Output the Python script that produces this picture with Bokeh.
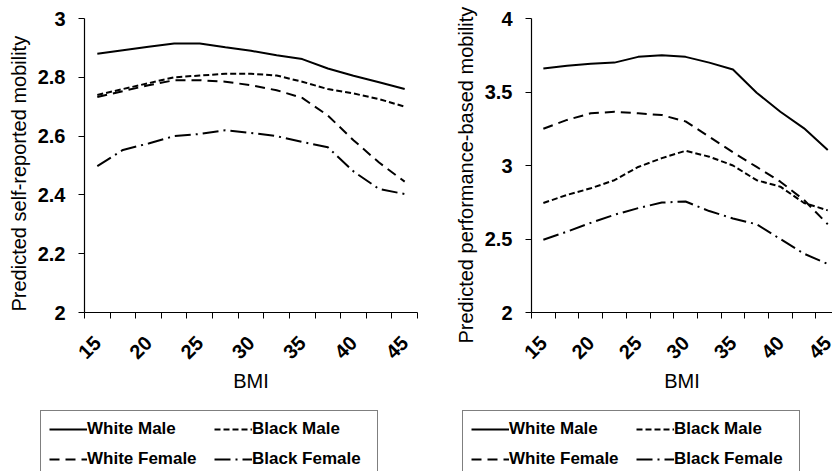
from bokeh.plotting import figure
from bokeh.layouts import row, column
from bokeh.models import FixedTicker, PrintfTickFormatter, Legend, LegendItem, Range1d, Title
from bokeh.embed import file_html
from bokeh.resources import INLINE

# ---- data ----
bmi = [15, 17.5, 20, 22.5, 25, 27.5, 30, 32.5, 35, 37.5, 40, 42.5, 45]
x_label_ticks = [15, 20, 25, 30, 35, 40, 45]
x_mark_ticks = [13.75, 16.25, 18.75, 21.25, 23.75, 26.25, 28.75, 31.25,
                33.75, 36.25, 38.75, 41.25, 43.75, 46.25]

series_names = ["White Male", "Black Male", "White Female", "Black Female"]

self_white_male = [2.88, 2.892, 2.904, 2.915, 2.915, 2.902, 2.89, 2.875, 2.862, 2.83, 2.805, 2.783, 2.76]
self_black_male = [2.74, 2.76, 2.78, 2.80, 2.806, 2.812, 2.812, 2.806, 2.785, 2.76, 2.745, 2.726, 2.70]
self_white_female = [2.733, 2.753, 2.773, 2.79, 2.79, 2.785, 2.773, 2.756, 2.73, 2.67, 2.586, 2.51, 2.445]
self_black_female = [2.498, 2.553, 2.575, 2.60, 2.607, 2.62, 2.611, 2.60, 2.58, 2.562, 2.48, 2.42, 2.403]

perf_white_male = [3.66, 3.678, 3.692, 3.70, 3.739, 3.75, 3.739, 3.70, 3.653, 3.495, 3.366, 3.253, 3.105]
perf_black_male = [2.745, 2.80, 2.845, 2.90, 2.99, 3.05, 3.10, 3.06, 3.0, 2.90, 2.856, 2.745, 2.695]
perf_white_female = [3.25, 3.31, 3.355, 3.365, 3.355, 3.343, 3.30, 3.195, 3.09, 2.99, 2.89, 2.765, 2.60]
perf_black_female = [2.495, 2.55, 2.61, 2.665, 2.71, 2.748, 2.755, 2.69, 2.64, 2.60, 2.50, 2.40, 2.33]

self_y_ticks = [2, 2.2, 2.4, 2.6, 2.8, 3]
perf_y_ticks = [2, 2.5, 3, 3.5, 4]

dashes = ["solid", "6 3", "10 6", "16 5 2 5"]
FONT = "Liberation Sans"


def make_fig(width, border_left, border_right, x_end, y_start, y_end, y_ticks,
             ylabel, label_offset, series):
    p = figure(width=width, height=405, output_backend="svg", toolbar_location=None,
               x_range=Range1d(13.75, x_end), y_range=Range1d(y_start, y_end),
               min_border_left=border_left, min_border_right=border_right,
               min_border_top=18, min_border_bottom=93)
    p.outline_line_color = None
    p.xgrid.visible = False
    p.ygrid.visible = False
    p.background_fill_color = "white"
    p.border_fill_color = "white"

    for ys, dash in zip(series, dashes):
        p.line(bmi, ys, line_color="black", line_width=2, line_dash=dash)

    xa = p.xaxis[0]
    xa.ticker = FixedTicker(ticks=x_label_ticks, minor_ticks=x_mark_ticks)
    xa.major_tick_out = 0
    xa.major_tick_in = 0
    xa.minor_tick_out = 6
    xa.minor_tick_in = 0
    xa.minor_tick_line_color = "black"
    xa.axis_line_color = "black"
    xa.axis_line_width = 1.2
    xa.major_label_orientation = 0.785398
    xa.major_label_standoff = 21
    xa.major_label_text_font = FONT
    xa.major_label_text_font_style = "bold"
    xa.major_label_text_font_size = "20px"
    xa.major_label_text_color = "black"
    xa.axis_label = "BMI"
    xa.axis_label_text_font = FONT
    xa.axis_label_text_font_style = "normal"
    xa.axis_label_text_font_size = "20px"
    xa.axis_label_text_color = "black"
    xa.axis_label_standoff = 2

    ya = p.yaxis[0]
    ya.ticker = FixedTicker(ticks=y_ticks, minor_ticks=[])
    ya.formatter = PrintfTickFormatter(format="%g")
    ya.major_tick_out = 6
    ya.major_tick_in = 0
    ya.major_tick_line_color = "black"
    ya.axis_line_color = "black"
    ya.axis_line_width = 1.2
    ya.major_label_standoff = 13
    ya.major_label_text_font = FONT
    ya.major_label_text_font_style = "bold"
    ya.major_label_text_font_size = "20px"
    ya.major_label_text_color = "black"

    ytitle = Title(text=ylabel, align="left", offset=label_offset,
                   text_font=FONT, text_font_style="normal", text_font_size="20px",
                   text_color="black", standoff=10)
    p.add_layout(ytitle, "left")
    return p


def make_legend_fig(width, series, legend_x):
    q = figure(width=width, height=66, output_backend="svg", toolbar_location=None,
               x_range=Range1d(0, 1), y_range=Range1d(0, 1),
               x_axis_type=None, y_axis_type=None,
               min_border_left=0, min_border_right=0, min_border_top=0, min_border_bottom=0)
    q.outline_line_color = None
    q.grid.visible = False
    q.background_fill_color = "white"
    q.border_fill_color = "white"
    renderers = []
    for ys, dash in zip(series, dashes):
        # lines lie outside this panel's ranges; only their legend samples show
        r = q.line(bmi, ys, line_color="black", line_width=2, line_dash=dash)
        renderers.append(r)
    items = [LegendItem(label=n, renderers=[r]) for n, r in zip(series_names, renderers)]
    legend = Legend(items=items, location=(legend_x, -7), orientation="horizontal",
                    ncols=2, padding=8, spacing=10, glyph_width=38, glyph_height=20,
                    label_height=20, label_width=117, label_standoff=0,
                    label_text_font=FONT, label_text_font_style="bold",
                    label_text_font_size="17px", label_text_color="black",
                    border_line_color="black", border_line_width=1,
                    background_fill_color="white", background_fill_alpha=1.0,
                    margin=0)
    q.add_layout(legend)
    return q


self_series = [self_white_male, self_black_male, self_white_female, self_black_female]
perf_series = [perf_white_male, perf_black_male, perf_white_female, perf_black_female]

left = make_fig(420, 83, 3, 46.25, 2, 3, self_y_ticks,
                "Predicted self-reported mobility", 1, self_series)
right = make_fig(412, 111, 0, 45.5, 2, 4, perf_y_ticks,
                 "Predicted performance-based mobility", -31, perf_series)
leg_left = make_legend_fig(420, self_series, 40)
leg_right = make_legend_fig(412, perf_series, 42)

layout = column(row(left, right, spacing=0), row(leg_left, leg_right, spacing=0), spacing=0)
open("out.html", "w").write(file_html(layout, INLINE))
